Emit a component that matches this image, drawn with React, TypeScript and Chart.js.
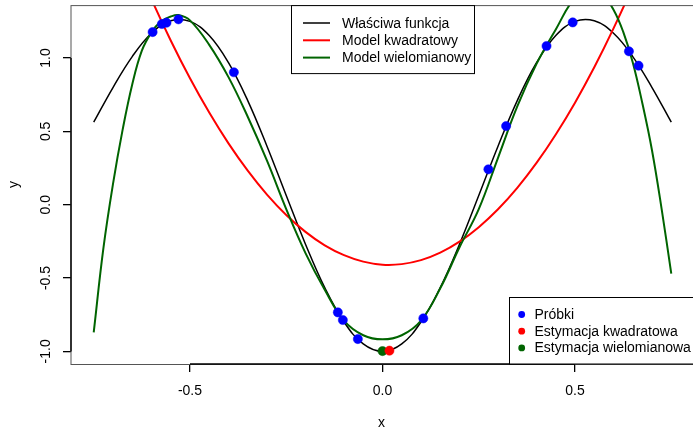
import React, { useEffect, useRef } from "react";
import { Chart, registerables } from "chart.js";

Chart.register(...registerables);

// ---- data ----
const curveX = [
  -0.75, -0.7, -0.65, -0.6, -0.55, -0.5, -0.45, -0.4, -0.35, -0.3, -0.25, -0.2, -0.15, -0.1, -0.05, 0,
  0.05, 0.1, 0.15, 0.2, 0.25, 0.3, 0.35, 0.4, 0.45, 0.5, 0.55, 0.6, 0.65, 0.7, 0.75,
];
const trueY = [
  0.5625, 0.799, 1.01, 1.169, 1.254, 1.25, 1.154, 0.969, 0.71, 0.399, 0.0625, -0.269, -0.565, -0.799, -0.949, -1.0,
  -0.949, -0.799, -0.565, -0.269, 0.0625, 0.399, 0.71, 0.969, 1.154, 1.25, 1.254, 1.169, 1.01, 0.799, 0.5625,
];
const quadY = [
  2.388, 2.035, 1.706, 1.401, 1.12, 0.862, 0.628, 0.418, 0.232, 0.069, -0.07, -0.185, -0.277, -0.344, -0.388, -0.409,
  -0.405, -0.378, -0.327, -0.252, -0.153, -0.031, 0.115, 0.285, 0.479, 0.696, 0.937, 1.202, 1.49, 1.803, 2.139,
];
const polyX = [
  -0.75, -0.725, -0.7, -0.675, -0.65, -0.625, -0.6, -0.575, -0.55, -0.53, -0.5, -0.45, -0.4, -0.35, -0.3, -0.25, -0.2,
  -0.15, -0.1, -0.05, 0, 0.05, 0.1, 0.15, 0.2, 0.25, 0.3, 0.35, 0.4, 0.45, 0.5, 0.54, 0.575, 0.6, 0.625, 0.65, 0.675,
  0.7, 0.725, 0.75,
];
const polyY = [
  -0.87, -0.3, 0.14, 0.51, 0.82, 1.05, 1.175, 1.25, 1.283, 1.293, 1.257, 1.09, 0.87, 0.6, 0.3, -0.03, -0.33,
  -0.58, -0.79, -0.89, -0.918, -0.89, -0.79, -0.57, -0.29, -0.03, 0.32, 0.67, 0.96, 1.195, 1.41, 1.455, 1.415, 1.33,
  1.18, 0.97, 0.69, 0.37, -0.03, -0.47,
];
const sampleX = [-0.597, -0.573, -0.561, -0.53, -0.386, -0.116, -0.103, -0.064, 0.106, 0.275, 0.321, 0.426, 0.494, 0.64, 0.665];
const sampleY = [1.177, 1.232, 1.241, 1.264, 0.903, -0.734, -0.786, -0.916, -0.775, 0.241, 0.536, 1.082, 1.243, 1.046, 0.948];
const quadEstX = [0.018];
const quadEstY = [-0.995];
const polyEstX = [0.0];
const polyEstY = [-0.998];

const xTickValues = [-0.5, 0, 0.5];
const xTickLabels = ["-0.5", "0.0", "0.5"];
const yTickValues = [-1, -0.5, 0, 0.5, 1];
const yTickLabels = ["-1.0", "-0.5", "0.0", "0.5", "1.0"];

const lineLegendLabels = ["Właściwa funkcja", "Model kwadratowy", "Model wielomianowy"];
const pointLegendLabels = ["Próbki", "Estymacja kwadratowa", "Estymacja wielomianowa"];

const BLACK = "#000000";
const RED = "#ff0000";
const GREEN = "#006400";
const BLUE = "#0000ff";
const FONT = '14px "Liberation Sans", Arial, Helvetica, sans-serif';

const zip = (xs: number[], ys: number[]) => xs.map((x, i) => ({ x, y: ys[i] }));

const rPlugin = {
  id: "rstyle",
  afterDraw(chart: any) {
    const { ctx, chartArea: ca, scales } = chart;
    const xs = scales.x;
    const ys = scales.y;
    ctx.save();
    // plot box
    ctx.strokeStyle = "#555555";
    ctx.lineWidth = 1;
    ctx.strokeRect(ca.left, ca.top + 0.5, ca.right - ca.left, ca.bottom - ca.top);
    // axis lines (from first to last tick)
    ctx.strokeStyle = BLACK;
    ctx.lineWidth = 1.4;
    ctx.beginPath();
    ctx.moveTo(xs.getPixelForValue(xTickValues[0]), ca.bottom);
    ctx.lineTo(xs.getPixelForValue(xTickValues[xTickValues.length - 1]), ca.bottom);
    ctx.moveTo(ca.left, ys.getPixelForValue(yTickValues[0]));
    ctx.lineTo(ca.left, ys.getPixelForValue(yTickValues[yTickValues.length - 1]));
    ctx.stroke();

    ctx.fillStyle = BLACK;
    ctx.font = FONT;
    // x tick labels
    ctx.textAlign = "center";
    ctx.textBaseline = "middle";
    xTickValues.forEach((v, i) => {
      ctx.fillText(xTickLabels[i], xs.getPixelForValue(v), 391.5);
    });
    // y tick labels (rotated)
    yTickValues.forEach((v, i) => {
      ctx.save();
      ctx.translate(46, ys.getPixelForValue(v));
      ctx.rotate(-Math.PI / 2);
      ctx.fillText(yTickLabels[i], 0, 0);
      ctx.restore();
    });
    // axis titles
    ctx.fillText("x", (ca.left + ca.right) / 2 - 1, 423);
    ctx.save();
    ctx.translate(14, (ca.top + ca.bottom) / 2);
    ctx.rotate(-Math.PI / 2);
    ctx.fillText("y", 0, 0);
    ctx.restore();

    // top legend (lines)
    const lineColors = [BLACK, RED, GREEN];
    const tl = { x: 291, y: ca.top + 0.5, w: 183, h: 68 };
    ctx.fillStyle = "#ffffff";
    ctx.fillRect(tl.x, tl.y, tl.w, tl.h);
    ctx.strokeStyle = BLACK;
    ctx.lineWidth = 1;
    ctx.strokeRect(tl.x + 0.5, tl.y, tl.w, tl.h);
    ctx.textAlign = "left";
    lineLegendLabels.forEach((lab, i) => {
      const yy = 23 + i * 17.3;
      ctx.strokeStyle = lineColors[i];
      ctx.lineWidth = i === 0 ? 1.5 : 2;
      ctx.beginPath();
      ctx.moveTo(303, yy);
      ctx.lineTo(330, yy);
      ctx.stroke();
      ctx.fillStyle = BLACK;
      ctx.fillText(lab, 342, yy + 1);
    });

    // bottom legend (points)
    const ptColors = [BLUE, RED, GREEN];
    const bl = { x: 509.5, y: 297.5, w: 200, h: ca.bottom - 297.5 };
    ctx.fillStyle = "#ffffff";
    ctx.fillRect(bl.x, bl.y, bl.w, bl.h);
    ctx.strokeStyle = BLACK;
    ctx.lineWidth = 1;
    ctx.strokeRect(bl.x, bl.y, bl.w, bl.h);
    pointLegendLabels.forEach((lab, i) => {
      const yy = 314.5 + i * 16.7;
      ctx.fillStyle = ptColors[i];
      ctx.beginPath();
      ctx.arc(521.7, yy, 3.4, 0, Math.PI * 2);
      ctx.fill();
      ctx.fillStyle = BLACK;
      ctx.fillText(lab, 534.5, yy + 0.5);
    });
    ctx.restore();
  },
};

export default function App() {
  const ref = useRef<HTMLCanvasElement | null>(null);
  useEffect(() => {
    if (!ref.current) return;
    const curve = (label: string, data: any[], color: string, width: number, order: number) => ({
      label,
      data,
      showLine: true,
      borderColor: color,
      backgroundColor: color,
      borderWidth: width,
      pointRadius: 0,
      pointHoverRadius: 0,
      tension: 0.4,
      fill: false,
      order,
    });
    const pts = (label: string, data: any[], color: string, order: number) => ({
      label,
      data,
      showLine: false,
      backgroundColor: color,
      borderColor: color,
      borderWidth: 0.5,
      pointRadius: 4.6,
      pointHoverRadius: 4.6,
      order,
    });
    const chart = new Chart(ref.current, {
      type: "scatter",
      data: {
        datasets: [
          curve(lineLegendLabels[0], zip(curveX, trueY), BLACK, 1.5, 6),
          curve(lineLegendLabels[1], zip(curveX, quadY), RED, 2, 5),
          curve(lineLegendLabels[2], zip(polyX, polyY), GREEN, 2, 4),
          pts(pointLegendLabels[0], zip(sampleX, sampleY), BLUE, 3),
          pts(pointLegendLabels[2], zip(polyEstX, polyEstY), GREEN, 2),
          pts(pointLegendLabels[1], zip(quadEstX, quadEstY), RED, 1),
        ],
      },
      options: {
        responsive: false,
        animation: false,
        devicePixelRatio: 1,
        events: [],
        layout: { padding: { top: 5, right: 26, left: 0, bottom: 0 } },
        plugins: { legend: { display: false }, tooltip: { enabled: false }, title: { display: false } },
        scales: {
          x: {
            type: "linear",
            min: -0.809,
            max: 0.809,
            afterBuildTicks: (s: any) => {
              s.ticks = xTickValues.map((v) => ({ value: v }));
            },
            afterFit: (s: any) => {
              s.height = 66;
            },
            ticks: { display: false },
            grid: { display: true, drawOnChartArea: false, drawTicks: true, tickLength: 8, color: BLACK, lineWidth: 1.3 },
            border: { display: false },
          },
          y: {
            type: "linear",
            min: -1.086,
            max: 1.361,
            afterBuildTicks: (s: any) => {
              s.ticks = yTickValues.map((v) => ({ value: v }));
            },
            afterFit: (s: any) => {
              s.width = 71;
            },
            ticks: { display: false },
            grid: { display: true, drawOnChartArea: false, drawTicks: true, tickLength: 8, color: BLACK, lineWidth: 1.3 },
            border: { display: false },
          },
        },
      },
      plugins: [rPlugin],
    });
    return () => chart.destroy();
  }, []);

  return (
    <div style={{ position: "fixed", left: 0, top: 0, width: 693, height: 430, overflow: "hidden", background: "#fff" }}>
      <canvas ref={ref} width={720} height={430} style={{ display: "block", width: 720, height: 430 }} />
    </div>
  );
}
